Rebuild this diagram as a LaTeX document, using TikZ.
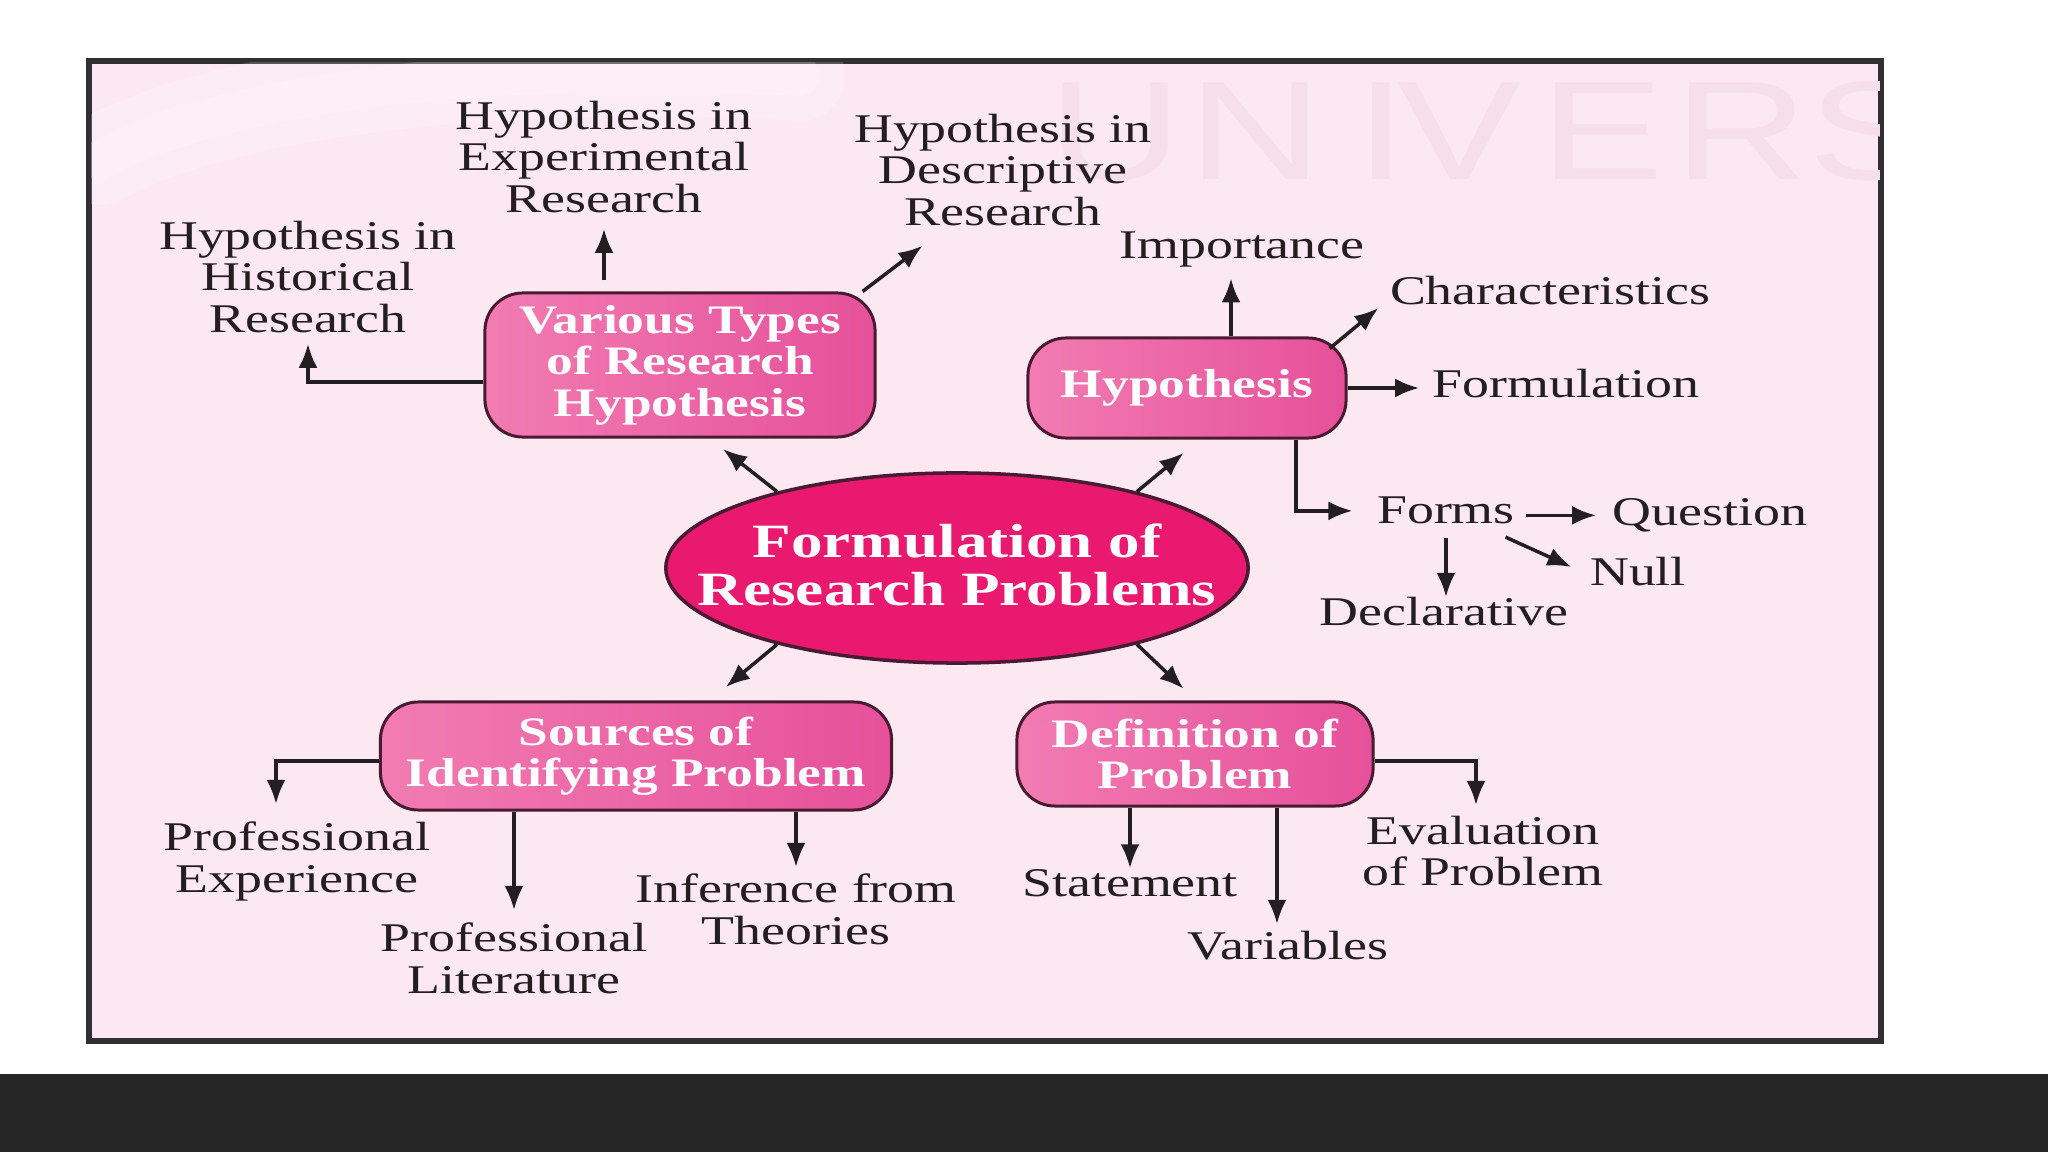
\documentclass[tikz,border=0pt]{standalone}
\usepackage{fontspec}
\setmainfont[FakeStretch=1.32]{Liberation Serif}
\newfontfamily\wmfont[FakeStretch=1.32]{Liberation Sans}
\usepackage{tikz}
\usetikzlibrary{arrows.meta,calc,positioning,shapes.geometric}

\definecolor{pagepink}{HTML}{FCE8F1}
\definecolor{markpink}{HTML}{F6DFE9}
\definecolor{framegray}{HTML}{303030}
\definecolor{barblack}{HTML}{262626}
\definecolor{hotpink}{HTML}{E8196F}
\definecolor{boxlight}{HTML}{F27CB2}
\definecolor{boxdark}{HTML}{E6509A}
\definecolor{edgedark}{HTML}{4A1A33}
\definecolor{inkdark}{HTML}{231F20}

\begin{document}
\begin{tikzpicture}[x=0.01cm,y=-0.01cm,
		arr/.style={draw=inkdark,line width=1pt,-{Latex[length=2.4mm,width=1.9mm]}},
		lbl/.style={inner sep=0pt,text=inkdark,align=center,font=\fontsize{11.6}{11.9}\selectfont},
		topic/.style={draw=edgedark,line width=0.85pt,rounded corners=3.8mm,left color=boxlight,right color=boxdark,
			text=white,align=center,inner sep=0pt,font=\bfseries\fontsize{11.5}{11.8}\selectfont},
		core/.style={ellipse,draw=edgedark,line width=1pt,fill=hotpink,inner sep=0pt},
		coretext/.style={text=white,align=center,inner sep=0pt,font=\bfseries\fontsize{13.6}{13.6}\selectfont},
		wmark/.style={text=markpink,inner sep=0pt,font=\wmfont\fontsize{40}{40}\selectfont},
		swoosh/.style={white,line cap=round,draw opacity=0.18}]

		\fill[white] (0,0) rectangle (2048,1152);
		\useasboundingbox (0,0) rectangle (2048,1152);

		% slide frame and footer bar
		\draw[framegray,line width=1.6pt,fill=pagepink] (89,61) rectangle (1881,1041);
		\fill[barblack] (0,1074) rectangle (2048,1152);
		\begin{scope}
			\clip (91,63) rectangle (1879,1039);
			\draw[swoosh,line width=9mm] (100,160) .. controls (250,80) and (550,62) .. (800,76);
			\draw[swoosh,line width=4mm] (100,160) .. controls (250,80) and (550,62) .. (800,76);
			\foreach \ch/\x in {U/1048,N/1188,I/1355,V/1397,E/1540,R/1674,S/1808}
				\node[wmark,anchor=base west] (wm\ch) at (\x,180) {\ch};
		\end{scope}

		% centre and the four topics
		\node[core,minimum width=5.82cm,minimum height=1.9cm] (ell) at (957,568) {};
		\node[coretext] (elltext) at ([yshift=0.3mm]ell.center) {Formulation of\\Research Problems};

		\node[topic,minimum width=3.9cm,minimum height=1.44cm] (types) at (680,365) {Various Types\\of Research\\Hypothesis};
		\node[topic,minimum width=3.18cm,minimum height=1cm] (hyp) at (1187,388) {Hypothesis};
		\node[topic,minimum width=5.11cm,minimum height=1.08cm] (src) at (636,756) {Sources of\\Identifying Problem};
		\node[topic,minimum width=3.56cm,minimum height=1.04cm] (defn) at (1195,754) {Definition of\\Problem};

		\draw[arr,shorten >=1.7mm] (ell.157) -- (types.-68);
		\draw[arr,shorten >=2.1mm] (ell.23) -- (hyp.-76);
		\draw[arr,shorten >=2.1mm] (ell.-157) -- (src.37);
		\draw[arr,shorten >=1.7mm] (ell.-23) -- (defn.89);

		% types of hypothesis
		\node[lbl,anchor=north] (hist) at (308,220) {Hypothesis in\\Historical\\Research};
		\node[lbl,anchor=north] (expt) at (604,100) {Hypothesis in\\Experimental\\Research};
		\node[lbl,anchor=north] (desc) at (1003,113) {Hypothesis in\\Descriptive\\Research};

		\draw[arr,shorten >=1mm] ([yshift=-1.7mm]types.west) -| (hist.south);
		\draw[arr,shorten <=1.1mm,shorten >=1.5mm] (types.north -| expt.south) -- (expt.south);
		\draw[arr] ([xshift=-1.4mm]types.north east) -- ([xshift=6.9mm,yshift=-1.9mm]desc.south west);

		% hypothesis
		\node[lbl,anchor=base] (imp) at (1242,259) {Importance};
		\node[lbl,anchor=base] (chr) at (1550,305) {Characteristics};
		\node[lbl,anchor=base] (frm) at (1566,398) {Formulation};
		\node[lbl,anchor=base] (forms) at (1446,524) {Forms};
		\node[lbl,anchor=base] (quest) at (1710,526) {Question};
		\node[lbl,anchor=base] (nul) at (1638,586) {Null};
		\node[lbl,anchor=base] (decl) at (1444,626) {Declarative};

		\draw[arr,shorten >=1mm] ([xshift=-1.1mm]imp.south |- hyp.north) -- ([xshift=-1.1mm]imp.south);
		\draw[arr] ([xshift=-1.8mm,yshift=-1.2mm]hyp.north east) -- ([xshift=-1.1mm,yshift=-0.2mm]chr.south west);
		\draw[arr,shorten >=1.3mm] (hyp.east) -- (hyp.east -| frm.west);
		\draw[arr,shorten >=2.4mm] ([xshift=10.9mm]hyp.south) |- (forms.west);
		\draw[arr,shorten <=1mm,shorten >=1.6mm] ([yshift=-0.45mm]forms.east) -- ([yshift=-0.45mm]forms.east -| quest.west);
		\draw[arr] ([xshift=-1mm,yshift=-1.2mm]forms.south east) -- ([xshift=-1.8mm,yshift=-1mm]nul.north west);
		\draw[arr,shorten <=1.3mm] (forms.south) -- (forms.south |- decl.north);

		% definition of problem
		\node[lbl,anchor=north] (eval) at (1483,815) {Evaluation\\of Problem};
		\node[lbl,anchor=base] (stmt) at (1130,896) {Statement};
		\node[lbl,anchor=base] (vars) at (1288,959) {Variables};

		\draw[arr,shorten >=1mm] ([yshift=-0.7mm]defn.east) -| ([xshift=-0.7mm]eval.north);
		\draw[arr] (defn.south -| stmt.north) -- (stmt.north);
		\draw[arr,shorten >=0.6mm] ([xshift=-1.1mm]defn.south -| vars.north) -- ([xshift=-1.1mm]vars.north);

		% sources of problem
		\node[lbl,anchor=north] (pexp) at (297,821) {Professional\\Experience};
		\node[lbl,anchor=north] (plit) at (514,922) {Professional\\Literature};
		\node[lbl,anchor=north] (infer) at (796,873) {Inference from\\Theories};

		\draw[arr,shorten >=1.7mm] ([yshift=-0.5mm]src.west) -| ([xshift=-2.1mm]pexp.north);
		\draw[arr,shorten >=1.2mm] (src.south -| plit.north) -- (plit.north);
		\draw[arr,shorten >=0.6mm] (src.south -| infer.north) -- (infer.north);
\end{tikzpicture}
\end{document}
